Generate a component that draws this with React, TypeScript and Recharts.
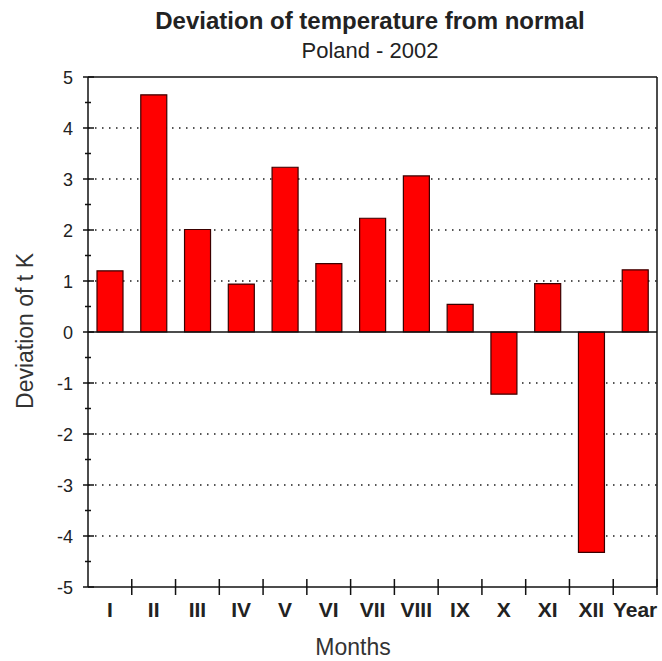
import React from 'react';
import { BarChart, Bar, XAxis, YAxis, CartesianGrid, ReferenceLine } from 'recharts';

const months = ['I', 'II', 'III', 'IV', 'V', 'VI', 'VII', 'VIII', 'IX', 'X', 'XI', 'XII', 'Year'];
const deviation = [1.2, 4.65, 2.01, 0.94, 3.23, 1.34, 2.23, 3.06, 0.54, -1.22, 0.95, -4.32, 1.22];
const yTicks = [-5, -4.5, -4, -3.5, -3, -2.5, -2, -1.5, -1, -0.5, 0, 0.5, 1, 1.5, 2, 2.5, 3, 3.5, 4, 4.5, 5];
const gridValues = [-4, -3, -2, -1, 1, 2, 3, 4];

const data = months.map((m, i) => ({ month: m, value: deviation[i] }));

const W = 662;
const H = 661;
const PLOT_LEFT = 88;
const PLOT_RIGHT = 657;
const BAND = (PLOT_RIGHT - PLOT_LEFT) / months.length;
const FONT = '"Liberation Sans", Arial, sans-serif';

// y ticks: big ones with labels on integers, small ones on halves
function YTick(props: any) {
  const { x, y, payload } = props;
  const v = payload.value;
  const major = Number.isInteger(v);
  return (
    <g>
      <line x1={major ? x - 5 : x - 3} x2={major ? x + 6 : x + 3} y1={y} y2={y} stroke="#111" strokeWidth={1.5} />
      {major && (
        <text x={x - 15} y={y} dy={6.5} textAnchor="end" fontSize={18} fontFamily={FONT} fill="#222">
          {v}
        </text>
      )}
    </g>
  );
}

// x ticks sit between the categories, label in the middle
function XTick(props: any) {
  const { x, y, payload } = props;
  return (
    <g>
      <line x1={x + BAND / 2} x2={x + BAND / 2} y1={y - 8} y2={y + 8} stroke="#111" strokeWidth={1.5} />
      <text x={x} y={y + 30} textAnchor="middle" fontSize={21} fontWeight="bold" fontFamily={FONT} fill="#222">
        {payload.value}
      </text>
    </g>
  );
}

export default function App() {
  return (
    <div style={{ position: 'absolute', left: 0, top: 0, width: W, height: H, background: '#fff' }}>
      <BarChart
        width={W}
        height={H}
        data={data}
        margin={{ top: 77, right: 0, bottom: 0, left: 0 }}
        barSize={26}
      >
        <CartesianGrid
          yAxisId="l"
          vertical={false}
          horizontalValues={gridValues}
          stroke="#555"
          strokeWidth={2}
          strokeDasharray="1.5 5.5"
        />
        <XAxis
          dataKey="month"
          height={74}
          tickSize={0}
          tickMargin={0}
          interval={0}
          tick={<XTick />}
          axisLine={{ stroke: '#111', strokeWidth: 1.5 }}
          tickLine={false}
        />
        <YAxis
          yAxisId="l"
          width={PLOT_LEFT}
          domain={[-5, 5]}
          ticks={yTicks}
          interval={0}
          tickSize={0}
          tickMargin={0}
          tick={<YTick />}
          axisLine={{ stroke: '#111', strokeWidth: 1.5 }}
          tickLine={false}
        />
        <YAxis
          yAxisId="r"
          orientation="right"
          width={W - PLOT_RIGHT}
          domain={[-5, 5]}
          tick={false}
          tickLine={false}
          axisLine={{ stroke: '#111', strokeWidth: 1.5 }}
        />
        <Bar
          yAxisId="l"
          dataKey="value"
          fill="#ff0000"
          stroke="#3a0000"
          strokeWidth={1.2}
          isAnimationActive={false}
        />
        <ReferenceLine yAxisId="l" y={0} stroke="#111" strokeWidth={1.5} />
        <ReferenceLine yAxisId="l" y={5} stroke="#111" strokeWidth={1.5} />
      </BarChart>
      <svg
        width={W}
        height={H}
        style={{ position: 'absolute', left: 0, top: 0, pointerEvents: 'none' }}
        fontFamily={FONT}
      >
        <text x={370} y={29} textAnchor="middle" fontSize={24} fontWeight="bold" fill="#222">
          Deviation of temperature from normal
        </text>
        <text x={370} y={58} textAnchor="middle" fontSize={22} fill="#222">
          Poland - 2002
        </text>
        <text x={33} y={331} textAnchor="middle" fontSize={23} fill="#333" transform="rotate(-90 33 331)">
          Deviation of t K
        </text>
        <text x={353} y={655} textAnchor="middle" fontSize={23} fill="#333">
          Months
        </text>
      </svg>
    </div>
  );
}
